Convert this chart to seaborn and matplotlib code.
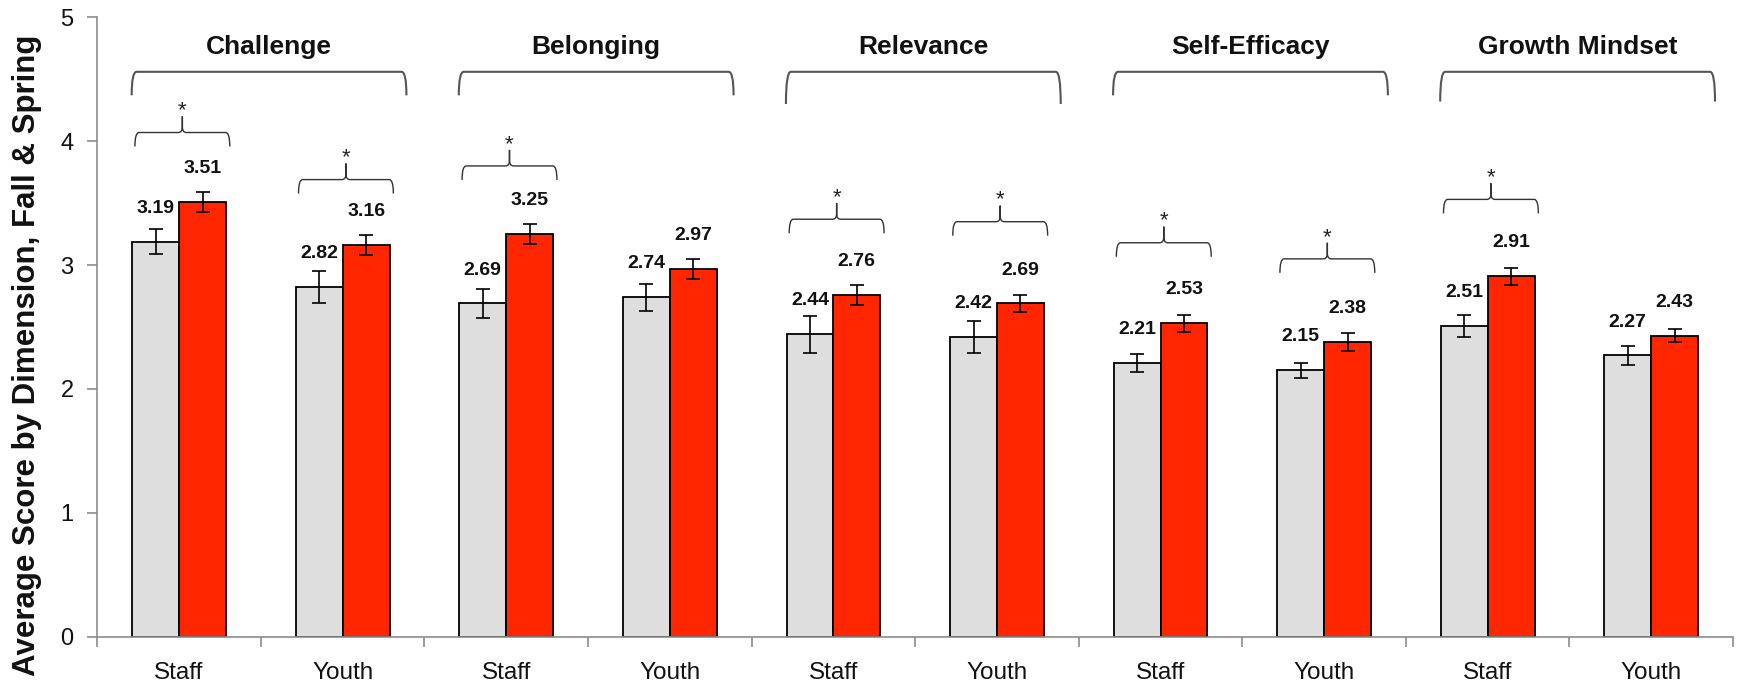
import numpy as np
import pandas as pd
import matplotlib
matplotlib.use("Agg")
import matplotlib.pyplot as plt
from matplotlib.path import Path
from matplotlib.patches import PathPatch
import seaborn as sns

# ---- data ----
dimensions = ["Challenge", "Belonging", "Relevance", "Self-Efficacy", "Growth Mindset"]
raters = ["Staff", "Youth"]
seasons = ["Fall", "Spring"]
fall_scores = [3.19, 2.82, 2.69, 2.74, 2.44, 2.42, 2.21, 2.15, 2.51, 2.27]
spring_scores = [3.51, 3.16, 3.25, 2.97, 2.76, 2.69, 2.53, 2.38, 2.91, 2.43]
fall_err = [0.10, 0.13, 0.12, 0.11, 0.15, 0.13, 0.07, 0.06, 0.09, 0.08]
spring_err = [0.08, 0.08, 0.08, 0.08, 0.08, 0.07, 0.07, 0.07, 0.07, 0.05]
significant = [True, True, True, False, True, True, True, True, True, False]
bracket_levels = [4.07, 3.69, 3.80, None, 3.37, 3.35, 3.18, 3.05, 3.53, None]
y_label = "Average Score by Dimension, Fall & Spring"

group_keys = [f"{d}|{r}" for d in dimensions for r in raters]
tick_labels = [r for d in dimensions for r in raters]

df = pd.DataFrame({
    "group": group_keys * 2,
    "season": ["Fall"] * len(group_keys) + ["Spring"] * len(group_keys),
    "score": fall_scores + spring_scores,
})

sns.set_theme(style="ticks")
plt.rcParams["font.family"] = ["Liberation Sans", "DejaVu Sans"]

W, H = 1738, 683
fig = plt.figure(figsize=(W / 100, H / 100), dpi=100)
ax = fig.add_axes([97.3 / W, 1 - 636.7 / H, 1635.7 / W, 619.4 / H])

sns.barplot(data=df, x="group", y="score", hue="season", order=group_keys,
            hue_order=seasons, palette={"Fall": "#DEDEDE", "Spring": "#FF2600"},
            width=0.573, edgecolor="black", linewidth=1.3, errorbar=None,
            saturation=1, legend=False, ax=ax)

# error bars and value labels on each bar
for cont, vals, errs in zip(ax.containers, [fall_scores, spring_scores], [fall_err, spring_err]):
    xs = [b.get_x() + b.get_width() / 2 for b in cont]
    ax.errorbar(xs, vals, yerr=errs, fmt="none", ecolor="black", elinewidth=1.2,
                capsize=4.8, capthick=1.2, zorder=4)
    for x, v in zip(xs, vals):
        ax.text(x, v + 0.27, f"{v:.2f}", ha="center", va="center",
                fontsize=14, fontweight="bold", color="#111111")


def curly_brace(ax, x0, x1, y, drop, tip, r, **kw):
    xm = (x0 + x1) / 2
    verts = [(x0, y - drop), (x0, y), (x0 + r, y), (xm - r, y),
             (xm, y), (xm, y + tip * 0.35), (xm, y + tip),
             (xm, y + tip * 0.35), (xm, y), (xm + r, y),
             (x1 - r, y), (x1, y), (x1, y - drop)]
    codes = [Path.MOVETO, Path.CURVE3, Path.CURVE3, Path.LINETO,
             Path.CURVE3, Path.CURVE3, Path.LINETO,
             Path.LINETO, Path.CURVE3, Path.CURVE3,
             Path.LINETO, Path.CURVE3, Path.CURVE3]
    ax.add_patch(PathPatch(Path(verts, codes), fill=False, clip_on=False, **kw))


def bracket(ax, x0, x1, y, drop, r, **kw):
    verts = [(x0, y - drop), (x0, y), (x0 + r, y), (x1 - r, y), (x1, y), (x1, y - drop)]
    codes = [Path.MOVETO, Path.CURVE3, Path.CURVE3, Path.LINETO, Path.CURVE3, Path.CURVE3]
    ax.add_patch(PathPatch(Path(verts, codes), fill=False, clip_on=False, **kw))


# significance braces over Fall/Spring pairs
for i, (sig, lvl) in enumerate(zip(significant, bracket_levels)):
    if not sig:
        continue
    x0, x1 = i - 0.27, i + 0.31
    curly_brace(ax, x0, x1, lvl, drop=0.113, tip=0.13, r=0.025,
                edgecolor="#333333", linewidth=1.0)
    ax.annotate("*", xy=((x0 + x1) / 2, lvl + 0.13), xytext=(0, 0),
                textcoords="offset points", ha="center", va="baseline",
                fontsize=16, color="#222222")

# dimension headers with wide brackets
drops = [0.19, 0.19, 0.26, 0.19, 0.24]
for k, (name, dr) in enumerate(zip(dimensions, drops)):
    x0, x1 = 2 * k - 0.29, 2 * k + 1 + 0.39
    bracket(ax, x0, x1, 4.56, drop=dr, r=0.03, edgecolor="#555555", linewidth=1.5)
    ax.text((x0 + x1) / 2, 4.76, name, ha="center", va="center",
            fontsize=19, fontweight="bold", color="#111111")

# axes styling
ax.set_xlim(-0.5, len(group_keys) - 0.5)
ax.set_ylim(0, 5)
ax.set_yticks(range(0, 6))
ax.set_xticks(range(len(group_keys)))
ax.set_xticklabels(tick_labels)
ax.set_xticks(np.arange(-0.5, len(group_keys), 1), minor=True)
ax.tick_params(axis="x", which="major", length=0, pad=18, labelsize=17.5, labelcolor="#111111")
ax.tick_params(axis="x", which="minor", length=7, width=1.2, color="#8c8c8c")
ax.tick_params(axis="y", length=7, width=1.2, color="#8c8c8c", pad=10,
               labelsize=17, labelcolor="#111111")
for side in ["top", "right"]:
    ax.spines[side].set_visible(False)
for side in ["left", "bottom"]:
    ax.spines[side].set_color("#8c8c8c")
    ax.spines[side].set_linewidth(1.2)

ax.set_xlabel("")
ax.set_ylabel(y_label, fontsize=22.5, fontweight="bold", color="#111111")
ax.yaxis.label.set_va("center")
ax.yaxis.set_label_coords(-0.0432, 0.454)

fig.savefig("out.png", dpi=100)
